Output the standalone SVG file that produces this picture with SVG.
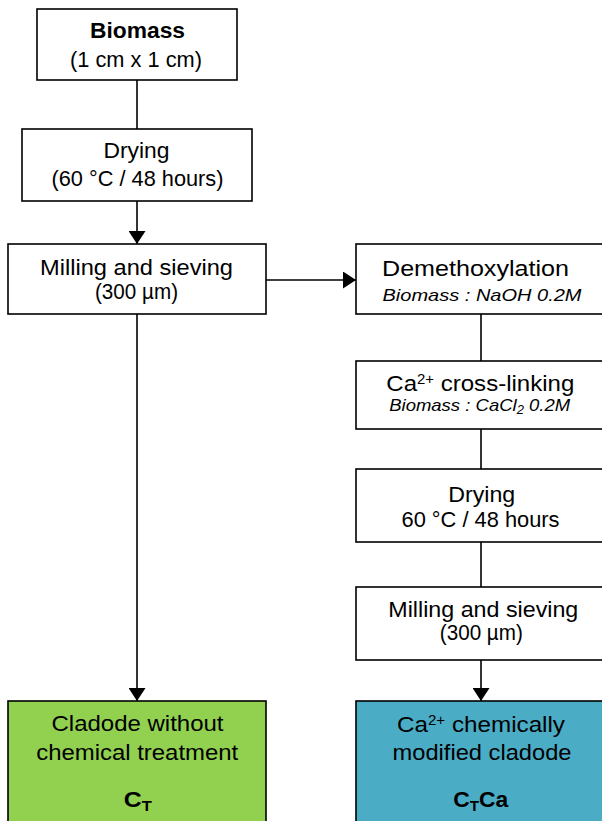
<svg xmlns="http://www.w3.org/2000/svg" width="602" height="821" viewBox="0 0 602 821">
<style>
.box{fill:#fff;stroke:#000;stroke-width:1.6}
.green{fill:#92D050;stroke:#000;stroke-width:1.6}
.blue{fill:#4BACC6;stroke:#000;stroke-width:1.6}
text{font-family:"Liberation Sans",Arial,sans-serif;font-size:22.5px;fill:#000;text-anchor:middle}
.b{font-weight:bold}
.i{font-style:italic;font-size:17px}
.sup{font-size:14px}
.sub{font-size:15px}
.isub{font-size:12px}
.conn line{stroke:#000;stroke-width:1.6}
</style>
<defs>
<marker id="arr" viewBox="0 0 13 17" refX="13" refY="8.5" markerWidth="13" markerHeight="17" markerUnits="userSpaceOnUse" orient="auto">
<path d="M0,0 L13,8.5 L0,17 z" fill="#000"/>
</marker>
</defs>
<rect width="602" height="821" fill="#fff"/>
<g class="conn" id="connectors">
<line x1="137" y1="80" x2="137" y2="129"/>
<line x1="137" y1="201" x2="137" y2="244" marker-end="url(#arr)"/>
<line x1="137" y1="314" x2="137" y2="701" marker-end="url(#arr)"/>
<line x1="266" y1="280" x2="356" y2="280" marker-end="url(#arr)"/>
<line x1="481" y1="314" x2="481" y2="361"/>
<line x1="481" y1="429" x2="481" y2="469"/>
<line x1="481" y1="542" x2="481" y2="587"/>
<line x1="481" y1="660" x2="481" y2="701" marker-end="url(#arr)"/>
</g>
<g id="biomass">
<rect class="box" x="37" y="9" width="200" height="71"/>
<text class="b" x="137.5" y="38" textLength="95" lengthAdjust="spacingAndGlyphs">Biomass</text>
<text x="136" y="66.5" textLength="132" lengthAdjust="spacingAndGlyphs">(1 cm x 1 cm)</text>
</g>
<g id="drying1">
<rect class="box" x="22" y="129" width="230" height="72"/>
<text x="136.5" y="158" textLength="66" lengthAdjust="spacingAndGlyphs">Drying</text>
<text x="137.5" y="186" textLength="172" lengthAdjust="spacingAndGlyphs">(60 °C / 48 hours)</text>
</g>
<g id="milling1">
<rect class="box" x="8" y="244" width="258" height="70"/>
<text x="136.5" y="275" textLength="193" lengthAdjust="spacingAndGlyphs">Milling and sieving</text>
<text x="136.5" y="298.5" textLength="83" lengthAdjust="spacingAndGlyphs">(300 µm)</text>
</g>
<g id="ct">
<rect class="green" x="8" y="701" width="258" height="130"/>
<text x="137.5" y="731" textLength="172" lengthAdjust="spacingAndGlyphs">Cladode without</text>
<text x="137.2" y="760" textLength="202" lengthAdjust="spacingAndGlyphs">chemical treatment</text>
<text class="b" x="137.8" y="807" textLength="28" lengthAdjust="spacingAndGlyphs">C<tspan class="sub" dy="4">T</tspan></text>
</g>
<g id="demethoxylation">
<rect class="box" x="356" y="244" width="250" height="70"/>
<text x="475.5" y="276" textLength="187" lengthAdjust="spacingAndGlyphs">Demethoxylation</text>
<text class="i" x="482" y="300.5" textLength="199" lengthAdjust="spacingAndGlyphs">Biomass : NaOH 0.2M</text>
</g>
<g id="crosslinking">
<rect class="box" x="356" y="361" width="250" height="68"/>
<text x="480.3" y="390.5" textLength="188" lengthAdjust="spacingAndGlyphs">Ca<tspan class="sup" dy="-7">2+</tspan><tspan dy="7"> cross-linking</tspan></text>
<text class="i" x="479.7" y="410.5" textLength="181" lengthAdjust="spacingAndGlyphs">Biomass : CaCl<tspan class="isub" dy="3">2</tspan><tspan dy="-3"> 0.2M</tspan></text>
</g>
<g id="drying2">
<rect class="box" x="356" y="469" width="250" height="73"/>
<text x="481.7" y="501.5" textLength="67" lengthAdjust="spacingAndGlyphs">Drying</text>
<text x="480.5" y="526.5" textLength="158" lengthAdjust="spacingAndGlyphs">60 °C / 48 hours</text>
</g>
<g id="milling2">
<rect class="box" x="356" y="587" width="250" height="73"/>
<text x="483.3" y="616.5" textLength="190" lengthAdjust="spacingAndGlyphs">Milling and sieving</text>
<text x="481.3" y="640" textLength="83" lengthAdjust="spacingAndGlyphs">(300 µm)</text>
</g>
<g id="ctca">
<rect class="blue" x="356" y="701" width="250" height="130"/>
<text x="481" y="732" textLength="168" lengthAdjust="spacingAndGlyphs">Ca<tspan class="sup" dy="-7">2+</tspan><tspan dy="7"> chemically</tspan></text>
<text x="482" y="760" textLength="179" lengthAdjust="spacingAndGlyphs">modified cladode</text>
<text class="b" x="480.8" y="807" textLength="55" lengthAdjust="spacingAndGlyphs">C<tspan class="sub" dy="4">T</tspan><tspan dy="-4">Ca</tspan></text>
</g>
</svg>
